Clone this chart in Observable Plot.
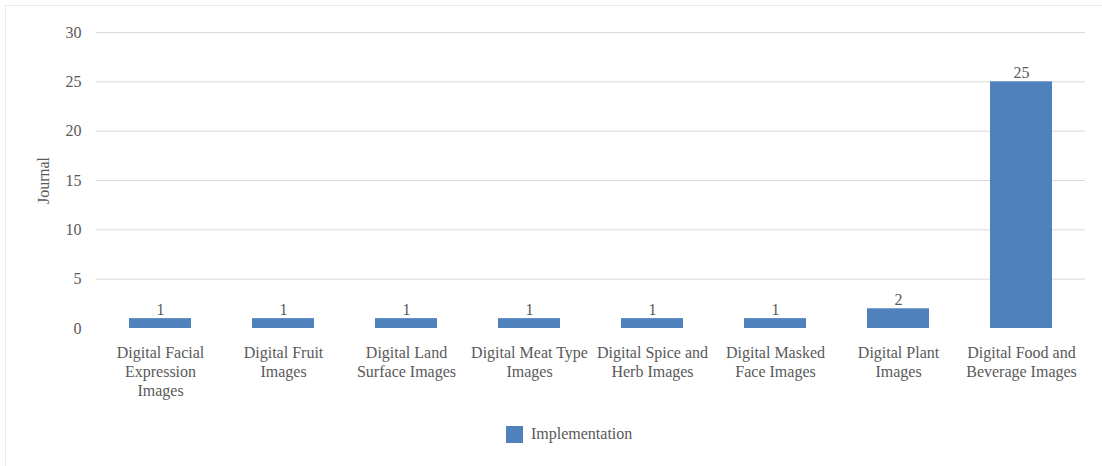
<!DOCTYPE html>
<html>
<head>
<meta charset="utf-8">
<script src="https://cdn.jsdelivr.net/npm/d3@7"></script>
<script src="https://cdn.jsdelivr.net/npm/@observablehq/plot@0.6"></script>
<style>
  html, body { margin: 0; padding: 0; background: #fff; }
  #wrap { position: absolute; left: 5px; top: 5px; width: 1097px; height: 461px; box-sizing: border-box; border-top: 1px solid #e8e8e8; border-left: 1px solid #e8e8e8; background: #fff; }
  #chart svg { display: block; }
  #legend { position: absolute; left: 500px; top: 419px; display: flex; align-items: center; font-family: "Liberation Serif", "DejaVu Serif", serif; font-size: 16px; color: #595959; }
  #legend .sw { width: 17px; height: 17px; background: #4f81bd; margin-right: 8px; }
</style>
</head>
<body>
<div id="wrap">
  <div id="chart"></div>
  <div id="legend"><div class="sw"></div><span id="legendText"></span></div>
</div>
<script>
const categories = [
  "Digital Facial Expression Images",
  "Digital Fruit Images",
  "Digital Land Surface Images",
  "Digital Meat Type Images",
  "Digital Spice and Herb Images",
  "Digital Masked Face Images",
  "Digital Plant Images",
  "Digital Food and Beverage Images"
];
const tickLabels = [
  "Digital Facial\nExpression\nImages",
  "Digital Fruit\nImages",
  "Digital Land\nSurface Images",
  "Digital Meat Type\nImages",
  "Digital Spice and\nHerb Images",
  "Digital Masked\nFace Images",
  "Digital Plant\nImages",
  "Digital Food and\nBeverage Images"
];
const values = [1, 1, 1, 1, 1, 1, 2, 25];
const seriesName = "Implementation";
const yTicks = [0, 5, 10, 15, 20, 25, 30];
const yLabel = "Journal";

const data = categories.map((c, i) => ({category: c, value: values[i]}));
const labelOf = new Map(categories.map((c, i) => [c, tickLabels[i]]));

document.getElementById("legendText").textContent = seriesName;

const font = "Liberation Serif, DejaVu Serif, serif";
const plot = Plot.plot({
  width: 1096,
  height: 410,
  marginLeft: 90,
  marginRight: 17,
  marginTop: 26,
  marginBottom: 88,
  style: {fontFamily: font, fontSize: "16px", color: "#595959", background: "#fff"},
  x: {domain: categories, paddingInner: 0.5, paddingOuter: 0.25, align: 0.5},
  y: {domain: [0, 30]},
  marks: [
    Plot.gridY(yTicks.filter(d => d > 0), {stroke: "#d9d9d9", strokeOpacity: 1, strokeWidth: 1}),
    Plot.barY(data, {x: "category", y: "value", fill: "#4f81bd"}),
    Plot.text(data, {x: "category", y: "value", text: d => String(d.value), dy: -9, fill: "#595959", fontSize: 16}),
    Plot.axisY({ticks: yTicks, tickSize: 0, tickPadding: 15, fontSize: 16, label: yLabel, labelAnchor: "center", labelArrow: "none", labelOffset: 59, fill: "#595959"}),
    Plot.axisX({tickSize: 0, tickPadding: 16, fontSize: 16, tickFormat: d => labelOf.get(d), lineHeight: 1.19, label: null, fill: "#595959"})
  ]
});
document.getElementById("chart").appendChild(plot);
</script>
</body>
</html>
